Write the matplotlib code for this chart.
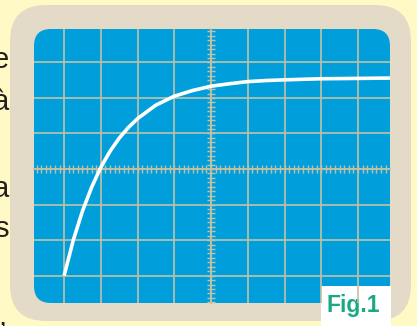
"""
Oscilloscope-style figure: exponential charge curve on a blue screen (Fig.1).
"""
import matplotlib
matplotlib.use("Agg")
import matplotlib.pyplot as plt
from matplotlib.patches import FancyBboxPatch, Rectangle
from matplotlib.ticker import MultipleLocator

plt.rcParams["font.family"] = ["Liberation Sans", "DejaVu Sans"]

YELLOW = "#FFF9C6"
FRAME = "#E3DBC7"
BLUE = "#009FDB"
GRID = "#C2C1A6"
GREEN = "#1BA985"

# trace, in divisions (centre = 0, 0)
trace_x = [-4.0, -3.75, -3.5, -3.25, -3.0, -2.75, -2.5, -2.25, -2.0, -1.5,
           -1.0, -0.5, 0.0, 0.5, 1.0, 1.5, 2.0, 3.0, 4.0, 4.87]
trace_y = [-3.0, -2.0, -1.18, -0.51, 0.05, 0.50, 0.87, 1.17, 1.42, 1.80,
           2.05, 2.21, 2.33, 2.40, 2.46, 2.49, 2.51, 2.54, 2.55, 2.56]

grid_x = [-4, -3, -2, -1, 0, 1, 2, 3, 4]
grid_y = [-3, -2, -1, 0, 1, 2, 3]

# cut-off words of the surrounding page text
side_text = [("e", 68), ("à", 110), ("a", 197), ("s", 237)]

W, H = 417, 326
fig = plt.figure(figsize=(W / 100, H / 100), dpi=100, facecolor=YELLOW)

# ── page layer in pixel coordinates ──────────────────────────────────────────
bg = fig.add_axes([0, 0, 1, 1])
bg.set_xlim(0, W)
bg.set_ylim(H, 0)
bg.axis("off")

bg.add_patch(FancyBboxPatch((10, 5), 401, 316,
                            boxstyle="round,pad=0,rounding_size=36",
                            fc=FRAME, ec="none"))
bg.add_patch(FancyBboxPatch((34, 29), 356, 274,
                            boxstyle="round,pad=0,rounding_size=17",
                            fc=BLUE, ec="none"))

for ch, yb in side_text:
    bg.text(9, yb, ch, fontsize=21, color="#231F20", ha="right", va="baseline")
bg.text(6, 325, ",", fontsize=21, color="#231F20", ha="right", va="baseline")

# ── screen: graticule + trace ────────────────────────────────────────────────
x0, x1, y0, y1 = 34, 390, 29, 303
ax = fig.add_axes([x0 / W, 1 - y1 / H, (x1 - x0) / W, (y1 - y0) / H])
ax.set_facecolor("none")
ax.set_xlim(-4.82, 4.87)
ax.set_ylim(-3.77, 3.94)

ax.set_xticks(grid_x)
ax.set_yticks(grid_y)
ax.grid(True, color=GRID, linewidth=1.2)
ax.xaxis.set_minor_locator(MultipleLocator(0.125))
ax.yaxis.set_minor_locator(MultipleLocator(0.125))

for side in ["top", "right"]:
    ax.spines[side].set_visible(False)
for side in ["bottom", "left"]:
    ax.spines[side].set_position("zero")
    ax.spines[side].set_color(GRID)
    ax.spines[side].set_linewidth(1.2)
ax.tick_params(which="both", direction="inout", length=5.5, width=1.0,
               color=GRID, labelbottom=False, labelleft=False)

ax.plot(trace_x, trace_y, color="white", linewidth=2.6,
        solid_capstyle="butt", clip_on=False, zorder=5)

# ── figure label ─────────────────────────────────────────────────────────────
bg.add_patch(Rectangle((321, 286), 70, 40, fc="white", ec="none", zorder=10))
bg.text(327, 312, "Fig.1", fontsize=16.5, fontweight="bold", color=GREEN,
        ha="left", va="baseline", zorder=11)

fig.savefig("out.png", dpi=100, facecolor=YELLOW)
